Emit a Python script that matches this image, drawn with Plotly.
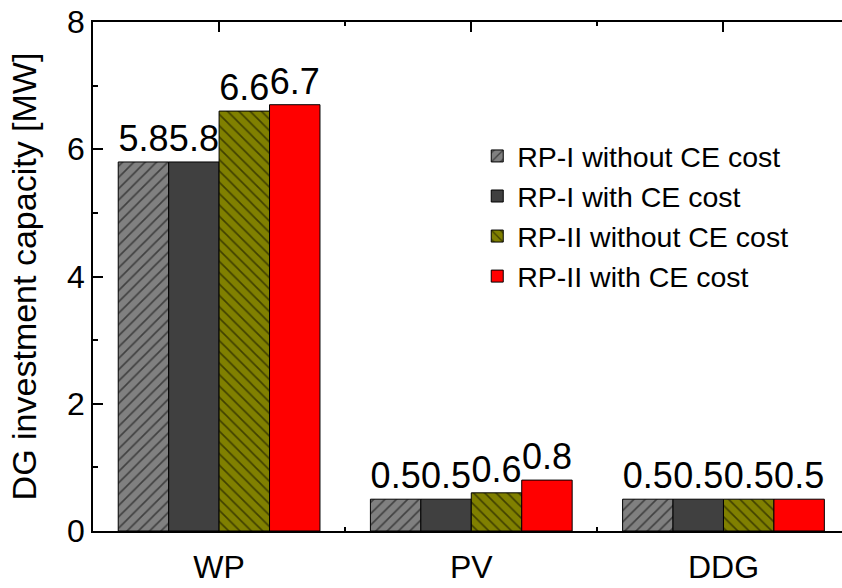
import plotly.graph_objects as go

categories = ["WP", "PV", "DDG"]
series_names = ["RP-I without CE cost", "RP-I with CE cost",
                "RP-II without CE cost", "RP-II with CE cost"]
rp1_without = [5.8, 0.5, 0.5]
rp1_with = [5.8, 0.5, 0.5]
rp2_without = [6.6, 0.6, 0.5]
rp2_with = [6.7, 0.8, 0.5]
series_values = [rp1_without, rp1_with, rp2_without, rp2_with]

colors = ["#808080", "#404040", "#808000", "#FF0000"]
patterns = ["/", "", "\\", ""]

FONT = "Liberation Sans, Arial, sans-serif"
xpos = list(range(len(categories)))

fig = go.Figure()
for name, vals, col, pat in zip(series_names, series_values, colors, patterns):
    fig.add_trace(go.Bar(
        name=name, x=xpos, y=vals,
        marker=dict(color=col, line=dict(color="black", width=1),
                    pattern=dict(shape=pat, fgcolor="black", bgcolor=col,
                                 size=8, solidity=0.2)),
        texttemplate="%{y:.1f}", textposition="outside",
        textfont=dict(size=36, color="black", family=FONT),
        constraintext="none", cliponaxis=False,
    ))

fig.update_layout(
    width=842, height=588,
    margin=dict(l=93, r=0, t=22, b=57),
    paper_bgcolor="white", plot_bgcolor="white",
    barmode="group", bargap=0.2, bargroupgap=0,
    font=dict(family=FONT, color="black"),
    showlegend=True,
    legend=dict(x=0.513, y=0.786, xanchor="left", yanchor="top",
                font=dict(size=28.5, family=FONT), bgcolor="rgba(0,0,0,0)",
                tracegroupgap=0),
)
fig.update_xaxes(
    range=[-0.5, 2.47], tickmode="array", tickvals=xpos, ticktext=categories,
    showline=True, linecolor="black", linewidth=1.5, mirror="ticks",
    ticks="inside", ticklen=10, tickwidth=1.5, tickcolor="black",
    minor=dict(tickvals=[0.5, 1.5], ticks="inside", ticklen=4,
               tickwidth=1.5, tickcolor="black"),
    tickfont=dict(size=32, family=FONT), ticklabelstandoff=7,
    showgrid=False, zeroline=False, layer="below traces", automargin=False,
)
fig.update_yaxes(
    range=[0, 8], tickmode="linear", tick0=0, dtick=2,
    showline=True, linecolor="black", linewidth=1.5, mirror=False,
    ticks="inside", ticklen=10, tickwidth=1.5, tickcolor="black",
    minor=dict(dtick=1, ticks="inside", ticklen=5, tickwidth=1.5,
               tickcolor="black", showgrid=False),
    tickfont=dict(size=32, family=FONT),
    title=dict(text="DG investment capacity [MW]", font=dict(size=34, family=FONT),
               standoff=20),
    showgrid=False, zeroline=False, automargin=False,
)

fig.write_html("out.html")
